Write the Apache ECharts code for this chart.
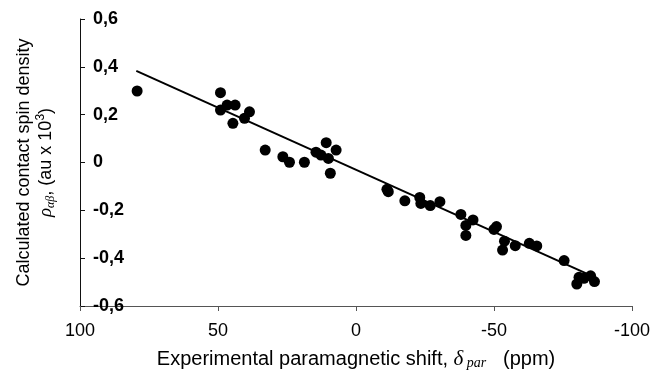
<!DOCTYPE html>
<html>
<head>
<meta charset="utf-8">
<script src="https://cdn.jsdelivr.net/npm/echarts@6/dist/echarts.min.js"></script>
<style>
  html, body { margin: 0; padding: 0; background: #fff; }
  #chart { width: 654px; height: 373px; }
</style>
</head>
<body>
<div id="chart"></div>
<script>
// experimental shift (ppm) vs calculated spin density
const shiftPpm = [
  79.3, 49.1, 49.1, 46.7, 43.8, 44.6, 40.4, 38.6, 32.9, 26.5,
  24.1, 18.7, 10.8, 14.5, 12.7, 10.0, 7.2, 9.3, -11.2, -11.7,
  -17.7, -23.1, -23.5, -26.9, -30.4, -38.0, -42.4, -39.8, -39.8, -50.9,
  -50.0, -53.8, -53.1, -57.7, -62.8, -65.5, -75.4, -80.8, -80.0, -82.6,
  -85.0, -86.4
];
const spinDensity = [
  0.299, 0.292, 0.219, 0.240, 0.240, 0.164, 0.185, 0.212, 0.052, 0.024,
  0.001, 0.001, 0.083, 0.043, 0.031, 0.017, 0.052, -0.045, -0.112, -0.122,
  -0.160, -0.146, -0.171, -0.180, -0.164, -0.217, -0.240, -0.263, -0.305, -0.268,
  -0.280, -0.329, -0.366, -0.348, -0.338, -0.349, -0.410, -0.480, -0.508, -0.484,
  -0.474, -0.498
];
// fitted line end points
const fitX = [79.6, -85.0];
const fitY = [0.383, -0.472];

const xTicks = [100, 50, 0, -50, -100];
const yTicks = [-0.6, -0.4, -0.2, 0, 0.2, 0.4, 0.6];

const sans = 'Liberation Sans, Arial, sans-serif';
const serif = 'Liberation Serif, Times New Roman, serif';

const points = shiftPpm.map((x, i) => [x, spinDensity[i]]);
const fit = fitX.map((x, i) => [x, fitY[i]]);

const chart = echarts.init(document.getElementById('chart'));
chart.setOption({
  animation: false,
  backgroundColor: '#fff',
  grid: {
    left: 80,
    right: 22,
    top: 19,
    bottom: 67,
    containLabel: false,
    outerBoundsMode: 'none'
  },
  xAxis: {
    type: 'value',
    inverse: true,
    min: xTicks[xTicks.length - 1],
    max: xTicks[0],
    interval: 50,
    splitLine: { show: false },
    axisLine: { onZero: false, lineStyle: { color: '#555', width: 1 } },
    axisTick: { inside: false, length: 5, lineStyle: { color: '#555' } },
    axisLabel: {
      margin: 16,
      fontFamily: sans,
      fontSize: 18,
      color: '#000'
    },
    name: 'Experimental paramagnetic shift, {d|δ}{s| par}   (ppm)',
    nameLocation: 'middle',
    nameGap: 43,
    nameTextStyle: {
      fontFamily: sans,
      fontSize: 20,
      color: '#000',
      rich: {
        d: { fontFamily: serif, fontStyle: 'italic', fontSize: 21, color: '#000' },
        s: { fontFamily: serif, fontStyle: 'italic', fontSize: 14, color: '#000', verticalAlign: 'bottom', padding: [6, 0, 0, 0] }
      }
    }
  },
  yAxis: {
    type: 'value',
    min: yTicks[0],
    max: yTicks[yTicks.length - 1],
    interval: 0.2,
    splitLine: { show: false },
    axisLine: { onZero: false, lineStyle: { color: '#111', width: 1 } },
    axisTick: { inside: true, length: 5, lineStyle: { color: '#111' } },
    axisLabel: {
      inside: true,
      margin: 13,
      fontFamily: sans,
      fontSize: 18,
      fontWeight: 'bold',
      color: '#000',
      formatter: v => {
        const r = Math.round(v * 10) / 10;
        return r === 0 ? '0' : r.toFixed(1).replace('.', ',');
      }
    },
    name: 'Calculated contact spin density\n{g|ρ}{sb|αβ}{t|, (au x 10}{sp|3}{t|)}',
    nameLocation: 'middle',
    nameRotate: 90,
    nameGap: 23,
    nameTextStyle: {
      fontFamily: sans,
      fontSize: 18,
      color: '#000',
      lineHeight: 22,
      rich: {
        g: { fontFamily: serif, fontStyle: 'italic', fontSize: 19, color: '#000' },
        sb: { fontFamily: serif, fontStyle: 'italic', fontSize: 12, color: '#000', verticalAlign: 'bottom', padding: [6, 0, 0, 0] },
        t: { fontFamily: sans, fontSize: 18, color: '#000' },
        sp: { fontFamily: sans, fontSize: 12, color: '#000', verticalAlign: 'top', padding: [0, 0, 6, 0] }
      }
    }
  },
  series: [
    {
      type: 'line',
      data: fit,
      symbol: 'none',
      lineStyle: { color: '#000', width: 2 },
      z: 2
    },
    {
      type: 'scatter',
      data: points,
      symbol: 'circle',
      symbolSize: 11,
      itemStyle: { color: '#000', opacity: 1 },
      z: 3
    }
  ]
});
</script>
</body>
</html>
